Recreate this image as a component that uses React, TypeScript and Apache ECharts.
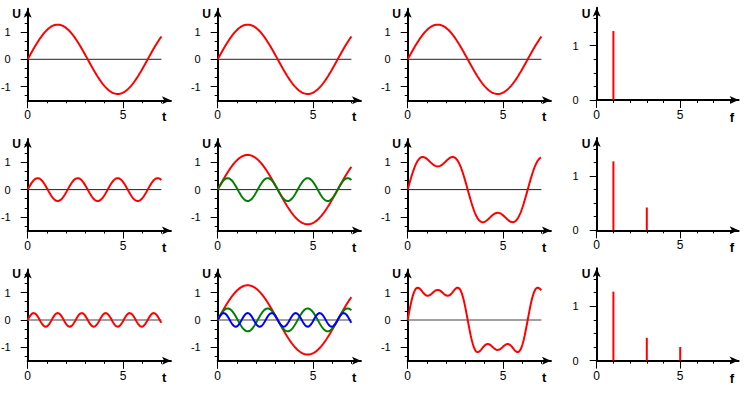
import React, { useEffect, useRef } from "react";
import * as echarts from "echarts";

// ---- data ----
const harmonicFreqs = [1, 3, 5]; // f values of the spectral lines
const harmonicAmps = [1.27, 0.42, 0.25]; // U heights of the spectral lines
const harmonicColors = ["#ff0000", "#008000", "#0000ff"];
const tRange = [0, 7]; // time span of the curves
const timeXTicks = [1, 2, 3, 4, 6, 7];
const timeXLabels = [0, 5];
const timeYTicks = [-4 / 3, -2 / 3, -1 / 3, 1 / 3, 2 / 3, 4 / 3, 5 / 3];
const timeYLabels = [-1, 0, 1];
const specXTicks = [1, 2, 3, 4, 6, 7, 8];
const specXLabels = [0, 5];
const specYTicks = [0.25, 0.5, 0.75, 1.25, 1.5];
const specYLabels = [0, 1];

// ---- layout ----
const FONT = "'Liberation Sans', Arial, sans-serif";
const colX0 = [27.7, 217.7, 407.7];
const rowY0 = [59.3, 189.6, 319.9];
const specX0 = 596.7;
const specBase = [100, 230.3, 360.6];
const TX = 19.1; // px per t unit
const TY = 27.3; // px per U unit (time)
const SX = 16.7; // px per f unit
const SY = 54.3; // px per U unit (spectrum)
const T_MAX = 7.5;
const T_YMIN = -1.5;
const T_YMAX = 1.85;
const S_XMAX = 8.5;
const S_YMAX = 1.7;

function sampleHarmonic(k: number): number[][] {
  const pts: number[][] = [];
  const n = 280;
  for (let i = 0; i <= n; i++) {
    const t = tRange[0] + ((tRange[1] - tRange[0]) * i) / n;
    pts.push([t, harmonicAmps[k] * Math.sin(harmonicFreqs[k] * t)]);
  }
  return pts;
}
function sampleSum(count: number): number[][] {
  const parts = [];
  for (let k = 0; k < count; k++) parts.push(sampleHarmonic(k));
  return parts[0].map((p, i) => [p[0], parts.reduce((s, c) => s + c[i][1], 0)]);
}

const fmt = (v: number) => String(Math.round(v));

function makeAxes(
  grid: number,
  dim: "x" | "y",
  min: number,
  max: number,
  ticks: number[],
  labels: number[],
  labelMargin: number
) {
  const main: any = {
    type: "value",
    gridIndex: grid,
    min,
    max,
    position: dim === "x" ? "bottom" : "left",
    axisLine: {
      show: true,
      onZero: false,
      symbol: ["none", "arrow"],
      symbolSize: [6, 9],
      lineStyle: { color: "#000", width: 2 },
    },
    axisTick: { show: true, customValues: ticks, length: 3, lineStyle: { color: "#000", width: 1 } },
    axisLabel: {
      show: true,
      customValues: labels,
      formatter: fmt,
      margin: labelMargin,
      color: "#000",
      fontSize: dim === "x" ? 12 : 11,
      fontFamily: FONT,
    },
    splitLine: { show: false },
  };
  const long: any = {
    type: "value",
    gridIndex: grid,
    min,
    max,
    position: dim === "x" ? "bottom" : "left",
    axisLine: { show: false, onZero: false },
    axisTick: { show: true, customValues: labels, length: dim === "x" ? 8 : 7, lineStyle: { color: "#000", width: 1 } },
    axisLabel: { show: false },
    splitLine: { show: false },
  };
  return [main, long];
}

export default function App() {
  const ref = useRef<HTMLDivElement>(null);
  useEffect(() => {
    if (!ref.current) return;
    const chart = echarts.init(ref.current, undefined, { renderer: "svg" });
    const grid: any[] = [];
    const xAxis: any[] = [];
    const yAxis: any[] = [];
    const series: any[] = [];
    const texts: any[] = [];

    // time-domain cells
    for (let r = 0; r < 3; r++) {
      for (let c = 0; c < 3; c++) {
        const g = grid.length;
        grid.push({
          left: colX0[c],
          top: rowY0[r] - T_YMAX * TY,
          width: T_MAX * TX,
          height: (T_YMAX - T_YMIN) * TY,
          containLabel: false,
          outerBoundsMode: "none",
        });
        const xi = xAxis.length;
        const yi = yAxis.length;
        xAxis.push(...makeAxes(g, "x", 0, T_MAX, timeXTicks, timeXLabels, 9));
        yAxis.push(...makeAxes(g, "y", T_YMIN, T_YMAX, timeYTicks, timeYLabels, 17));
        // zero reference line
        series.push({
          type: "line",
          xAxisIndex: xi,
          yAxisIndex: yi,
          data: [
            [tRange[0], 0],
            [tRange[1], 0],
          ],
          showSymbol: false,
          silent: true,
          lineStyle: { color: r === 2 ? "#808080" : "#222", width: r === 2 ? 1.5 : 1 },
          z: 1,
        });
        const curves: { data: number[][]; color: string }[] = [];
        if (c === 0) curves.push({ data: sampleHarmonic(r), color: harmonicColors[0] });
        if (c === 1)
          for (let k = 0; k <= r; k++) curves.push({ data: sampleHarmonic(k), color: harmonicColors[k] });
        if (c === 2) curves.push({ data: sampleSum(r + 1), color: harmonicColors[0] });
        curves.forEach((cv, i) =>
          series.push({
            type: "line",
            xAxisIndex: xi,
            yAxisIndex: yi,
            data: cv.data,
            showSymbol: false,
            lineStyle: { color: cv.color, width: 2 },
            z: 2 + i,
          })
        );
        texts.push({
          type: "text",
          x: colX0[c] - 11,
          y: rowY0[r] - 45.6,
          style: { text: "U", font: `bold 12px ${FONT}`, fill: "#000", align: "center", verticalAlign: "middle" },
        });
        texts.push({
          type: "text",
          x: colX0[c] + 136.5,
          y: rowY0[r] + 57.5,
          style: { text: "t", font: `bold 13px ${FONT}`, fill: "#000", align: "center", verticalAlign: "middle" },
        });
      }
      // spectrum cell
      const g = grid.length;
      grid.push({
        left: specX0,
        top: specBase[r] - S_YMAX * SY,
        width: S_XMAX * SX,
        height: S_YMAX * SY,
        containLabel: false,
        outerBoundsMode: "none",
      });
      const xi = xAxis.length;
      const yi = yAxis.length;
      xAxis.push(...makeAxes(g, "x", 0, S_XMAX, specXTicks, specXLabels, 9));
      yAxis.push(...makeAxes(g, "y", 0, S_YMAX, specYTicks, specYLabels, 18));
      series.push({
        type: "bar",
        xAxisIndex: xi,
        yAxisIndex: yi,
        barWidth: 2,
        itemStyle: { color: harmonicColors[0] },
        data: harmonicFreqs.slice(0, r + 1).map((f, k) => [f, harmonicAmps[k]]),
      });
      texts.push({
        type: "text",
        x: specX0 - 10.7,
        y: specBase[r] - 86.3,
        style: { text: "U", font: `bold 12px ${FONT}`, fill: "#000", align: "center", verticalAlign: "middle" },
      });
      texts.push({
        type: "text",
        x: specX0 + 135.3,
        y: specBase[r] + 17.5,
        style: { text: "f", font: `bold 13px ${FONT}`, fill: "#000", align: "center", verticalAlign: "middle" },
      });
    }

    chart.setOption({
      animation: false,
      backgroundColor: "#fff",
      textStyle: { fontFamily: FONT },
      grid,
      xAxis,
      yAxis,
      series,
      graphic: texts,
    });
    return () => chart.dispose();
  }, []);
  return <div ref={ref} style={{ width: 748, height: 393, position: "absolute", left: 0, top: 0 }} />;
}
